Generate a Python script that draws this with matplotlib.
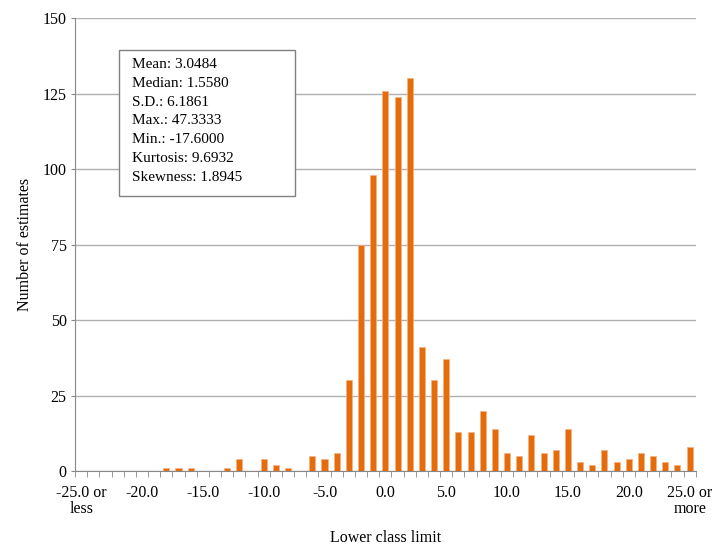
import numpy as np
import matplotlib
matplotlib.use("Agg")
import matplotlib.pyplot as plt
from matplotlib.patches import Rectangle

# --- data ---
class_limits = list(range(-25, 26))
counts = [0, 0, 0, 0, 0, 0, 0, 1, 1, 1,      # -25 .. -16
          0, 0, 1, 4, 0, 4, 2, 1, 0, 5,      # -15 .. -6
          4, 6, 30, 75, 98, 126, 124, 130, 41, 30,   # -5 .. 4
          37, 13, 13, 20, 14, 6, 5, 12, 6, 7,  # 5 .. 14
          14, 3, 2, 7, 3, 4, 6, 5, 3, 2,     # 15 .. 24
          8]                                 # 25 or more
tick_labels = {-25: "-25.0 or\nless", -20: "-20.0", -15: "-15.0", -10: "-10.0",
               -5: "-5.0", 0: "0.0", 5: "5.0", 10: "10.0", 15: "15.0",
               20: "20.0", 25: "25.0 or\nmore"}
stats_lines = ["Mean: 3.0484", "Median: 1.5580", "S.D.: 6.1861",
               "Max.: 47.3333", "Min.: -17.6000", "Kurtosis: 9.6932",
               "Skewness: 1.8945"]

plt.rcParams['font.family'] = ['Liberation Serif', 'DejaVu Serif']

fig = plt.figure(figsize=(7.15, 5.48), dpi=100)
ax = fig.add_axes([0.105, 0.1405, 0.868, 0.8265])

pos = np.arange(len(class_limits))
ax.bar(pos, counts, width=0.5, color="#E46C0A", edgecolor="#F4B183", linewidth=0.5, zorder=3)

ax.set_xlim(-0.5, len(class_limits) - 0.5)
ax.set_ylim(0, 150)
ax.set_yticks(np.arange(0, 151, 25))
ax.yaxis.grid(True, color="#B0B0B0", linewidth=1.0, zorder=0)
ax.tick_params(axis="y", length=3, color="#888888", labelsize=11.5, pad=3)

label_pos = [class_limits.index(v) for v in tick_labels]
ax.set_xticks(label_pos)
ax.set_xticklabels(list(tick_labels.values()), fontsize=11.5, linespacing=1.0)
ax.set_xticks(np.arange(len(class_limits) + 1) - 0.5, minor=True)
ax.tick_params(axis="x", which="major", length=0, pad=10)
ax.tick_params(axis="x", which="minor", length=4, color="#888888")

for side in ["top", "right"]:
    ax.spines[side].set_visible(False)
for side in ["left", "bottom"]:
    ax.spines[side].set_color("#888888")

ax.set_xlabel("Lower class limit", fontsize=11.5)
ax.xaxis.set_label_coords(0.5, -0.13)
ax.set_ylabel("Number of estimates", fontsize=11.5)
ax.yaxis.set_label_coords(-0.067, 0.5)

# stats box
ax.add_patch(Rectangle((0.071, 0.607), 0.283, 0.322, transform=ax.transAxes,
                       facecolor="white", edgecolor="#808080", linewidth=1.0, zorder=4))
ax.text(0.091, 0.912, "\n".join(stats_lines), transform=ax.transAxes,
        va="top", ha="left", fontsize=11, linespacing=1.58, zorder=5)

fig.savefig("out.png", dpi=100)
